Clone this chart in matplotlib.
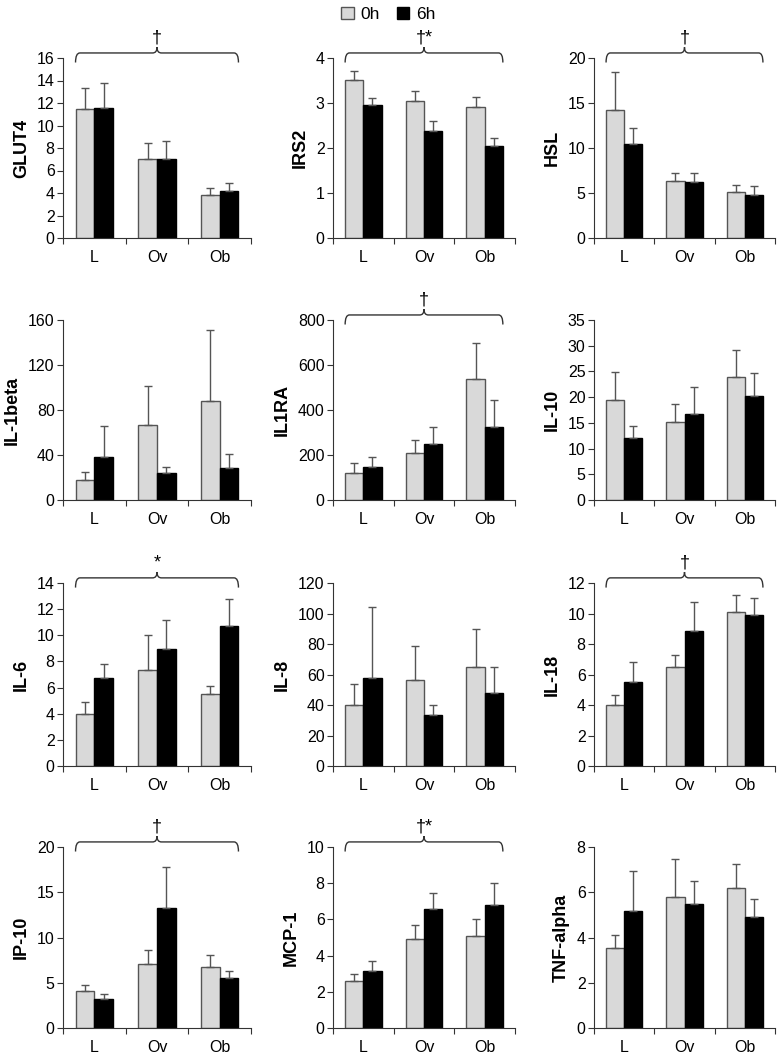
import matplotlib.pyplot as plt
from matplotlib.path import Path
from matplotlib.patches import PathPatch, Patch
import numpy as np

plt.rcParams['font.family'] = ['Liberation Sans', 'DejaVu Sans']

groups = ['L', 'Ov', 'Ob']

# panel data: name, 0h means, 0h errors (upper), 6h means, 6h errors, y max, y step, mark
names = ['GLUT4', 'IRS2', 'HSL', 'IL-1beta', 'IL1RA', 'IL-10',
         'IL-6', 'IL-8', 'IL-18', 'IP-10', 'MCP-1', 'TNF-alpha']

mean_0h = [[11.5, 7.0, 3.86], [3.52, 3.05, 2.91], [14.2, 6.3, 5.07],
           [17.8, 67.0, 88.3], [120, 208, 540], [19.5, 15.1, 24.0],
           [3.95, 7.38, 5.47], [40.0, 56.7, 64.7], [3.98, 6.48, 10.1],
           [4.05, 7.06, 6.69], [2.59, 4.89, 5.06], [3.55, 5.81, 6.2]]
top_0h = [[13.36, 8.47, 4.48], [3.72, 3.27, 3.14], [18.46, 7.2, 5.93],
          [25.2, 101.3, 150.8], [166, 265, 699], [24.9, 18.6, 29.1],
          [4.89, 10.0, 6.1], [53.6, 78.9, 90.0], [4.68, 7.25, 11.21],
          [4.8, 8.62, 8.03], [2.98, 5.69, 6.02], [4.09, 7.47, 7.24]]
mean_6h = [[11.56, 7.05, 4.22], [2.96, 2.38, 2.04], [10.39, 6.19, 4.77],
           [37.9, 24.3, 28.7], [146, 247, 326], [12.1, 16.67, 20.2],
           [6.77, 8.93, 10.74], [57.8, 33.3, 47.8], [5.54, 8.84, 9.87],
           [3.2, 13.3, 5.5], [3.15, 6.59, 6.81], [5.15, 5.47, 4.89]]
top_6h = [[13.78, 8.58, 4.9], [3.11, 2.6, 2.23], [12.27, 7.2, 5.78],
          [66.1, 29.6, 40.6], [193, 323, 446], [14.35, 22.0, 24.7],
          [7.84, 11.2, 12.75], [104.2, 39.8, 64.9], [6.79, 10.73, 10.99],
          [3.72, 17.77, 6.32], [3.72, 7.44, 8.0], [6.93, 6.5, 5.68]]
ymax = [16, 4, 20, 160, 800, 35, 14, 120, 12, 20, 10, 8]
ystep = [2, 1, 5, 40, 200, 5, 2, 20, 2, 5, 2, 2]
marks = ['\u2020', '\u2020*', '\u2020', '', '\u2020', '',
         '*', '', '\u2020', '\u2020', '\u2020*', '']

W, H = 777, 1057
col_left = [63, 333, 594]
col_width = [188, 182, 181]
row_top = [58, 320, 583, 847]
row_bottom = [238, 500, 766, 1028]

gray = '#d9d9d9'
edge = '#555555'


def brace(ax, x0, x1, text):
    tr = ax.get_xaxis_transform()
    xc = (x0 + x1) / 2
    r = 0.07
    y_end, y_mid, y_peak = 0.975, 1.028, 1.06
    verts = [(x0, y_end), (x0, y_mid), (x0 + r, y_mid),
             (xc - r, y_mid), (xc, y_mid), (xc, y_peak),
             (xc, y_mid), (xc + r, y_mid),
             (x1 - r, y_mid), (x1, y_mid), (x1, y_end)]
    codes = [Path.MOVETO, Path.CURVE3, Path.CURVE3,
             Path.LINETO, Path.CURVE3, Path.CURVE3,
             Path.CURVE3, Path.CURVE3,
             Path.LINETO, Path.CURVE3, Path.CURVE3]
    ax.add_patch(PathPatch(Path(verts, codes), transform=tr, fill=False,
                           edgecolor='#333333', lw=1.0, clip_on=False))
    ax.text(xc, 1.062, text, transform=tr, ha='center', va='bottom',
            fontsize=13)


fig = plt.figure(figsize=(W / 100, H / 100), dpi=100)
x = np.arange(3) + 0.5
bw = 0.3

for i, name in enumerate(names):
    r, c = divmod(i, 3)
    left = col_left[c] / W
    bottom = 1 - row_bottom[r] / H
    height = (row_bottom[r] - row_top[r]) / H
    ax = fig.add_axes([left, bottom, col_width[c] / W, height])

    m0 = np.array(mean_0h[i]); e0 = np.array(top_0h[i]) - m0
    m1 = np.array(mean_6h[i]); e1 = np.array(top_6h[i]) - m1
    ax.bar(x - bw / 2, m0, bw, color=gray, edgecolor=edge, lw=1.0,
           yerr=[np.zeros(3), e0], ecolor=edge,
           error_kw=dict(capsize=3, elinewidth=1.0, capthick=1.0))
    ax.bar(x + bw / 2, m1, bw, color='black', edgecolor='black', lw=1.0,
           yerr=[np.zeros(3), e1], ecolor=edge,
           error_kw=dict(capsize=3, elinewidth=1.0, capthick=1.0))

    ax.set_xlim(0, 3)
    ax.set_ylim(0, ymax[i])
    ax.set_yticks(np.arange(0, ymax[i] + ystep[i] / 2, ystep[i]))
    ax.set_xticks([0, 1, 2, 3])
    ax.set_xticklabels([])
    ax.set_xticks(x, minor=True)
    ax.set_xticklabels(groups, minor=True)
    ax.tick_params(axis='x', which='minor', length=0, pad=9, labelsize=11.5)
    ax.tick_params(axis='x', which='major', length=4, color='#333333')
    ax.tick_params(axis='y', length=4, labelsize=11.5, color='#333333', pad=2)
    for s in ['top', 'right']:
        ax.spines[s].set_visible(False)
    for s in ['left', 'bottom']:
        ax.spines[s].set_color('#333333')
    ax.set_ylabel(name, fontsize=13, fontweight='bold', labelpad=5)

    if marks[i]:
        brace(ax, 0.2, 2.8, marks[i])

handles = [Patch(facecolor=gray, edgecolor=edge, label='0h'),
           Patch(facecolor='black', edgecolor='black', label='6h')]
fig.legend(handles=handles, loc='upper center', bbox_to_anchor=(0.5, 1.008),
           ncol=2, frameon=False, fontsize=12.5, handlelength=0.7,
           handleheight=0.7, handletextpad=0.4, columnspacing=1.0)

fig.savefig('out.png', dpi=100)
